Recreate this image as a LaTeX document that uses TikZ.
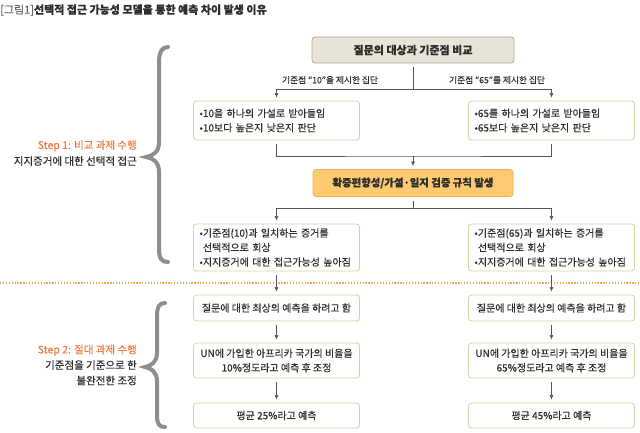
\documentclass[tikz,border=0pt]{standalone}
\usepackage{fontspec}
\setmainfont{Noto Sans CJK KR}[FakeBold=0.35]
\usetikzlibrary{arrows.meta}
\definecolor{txt}{HTML}{2E2E2E}
\definecolor{titlegray}{HTML}{666666}
\definecolor{topfill}{HTML}{E8E5D8}
\definecolor{topdraw}{HTML}{A9A79B}
\definecolor{boxgreen}{HTML}{C6DAA6}
\definecolor{orfill}{HTML}{FDCA70}
\definecolor{ordraw}{HTML}{E9B45A}
\definecolor{steporange}{HTML}{EE7A3F}
\definecolor{dotorange}{HTML}{F2A850}
\definecolor{bracec}{HTML}{8E8E8E}
\definecolor{linec}{HTML}{555555}
\begin{document}
\begin{tikzpicture}[x=1pt,y=-1pt,
  gbox/.style={draw=boxgreen, line width=0.8pt, rounded corners=3pt, fill=white,
    minimum width=166pt, inner xsep=6pt, inner ysep=2pt,
    font=\fontsize{10}{14.5}\selectfont, text=txt},
  lbox/.style={gbox, text width=154pt, align=left},
  cbox/.style={gbox, align=center},
  conn/.style={draw=linec, line width=0.6pt},
  link/.style={conn, shorten <=4pt, shorten >=4pt},
  arr/.style={conn, -{Latex[length=4.5pt,width=4pt]}, shorten <=4pt, shorten >=3pt},
  arr0/.style={conn, -{Latex[length=4.5pt,width=4pt]}, shorten >=3pt},
  lbl/.style={font=\fontsize{8.7}{10}\selectfont, text=txt, inner sep=1pt},
  steplbl/.style={anchor=east, align=right, font=\fontsize{10.5}{16}\selectfont, text=txt, inner sep=0pt},
  brace/.style={draw=bracec, line width=4pt, line cap=round}
]
\useasboundingbox (0,0) rectangle (640,433);

% title
\node[anchor=west, inner sep=0pt, text=txt, font=\fontsize{11}{12}\selectfont\bfseries] (title) at (0,10)
  {{\mdseries\color{titlegray}[그림1]}선택적 접근 가능성 모델을 통한 예측 차이 발생 이유};

% top box
\node[draw=topdraw, fill=topfill, line width=0.8pt, rounded corners=3pt,
  minimum width=202pt, minimum height=26pt, text=txt,
  font=\fontsize{11}{12}\selectfont\bfseries] (top) at (413,50) {질문의 대상과 기준점 비교};

% split 1
\coordinate (s1) at (413,89);
\node[lbl] (la) at (330,80) {기준점 “10”을 제시한 집단};
\node[lbl] (lb) at (497,80) {기준점 “65”를 제시한 집단};

% row 1
\node[lbox, minimum height=39pt] (r1l) at (276.5,120.5) {•10을 하나의 가설로 받아들임\\•10보다 높은지 낮은지 판단};
\node[lbox, minimum height=39pt] (r1r) at (551.5,120.5) {•65를 하나의 가설로 받아들임\\•65보다 높은지 낮은지 판단};

\coordinate (m1) at (413,156);

% orange box
\node[draw=ordraw, fill=orfill, line width=0.8pt, rounded corners=3pt,
  minimum width=200pt, minimum height=27pt, text=txt,
  font=\fontsize{10.4}{12}\selectfont\bfseries] (mid) at (413,183) {확증편향성/가설·일지 검증 규칙 발생};

\coordinate (s2) at (413,208);

% row 2
\node[lbox, minimum height=47pt] (r2l) at (276.5,247.5) {•기준점(10)과 일치하는 증거를\\\phantom{•}선택적으로 회상\\•지지증거에 대한 접근가능성 높아짐};
\node[lbox, minimum height=47pt] (r2r) at (551.5,247.5) {•기준점(65)과 일치하는 증거를\\\phantom{•}선택적으로 회상\\•지지증거에 대한 접근가능성 높아짐};

% dotted separator
\draw[draw=dotorange, line width=1.3pt, dash pattern=on 1.3pt off 1.6pt] (0,283) -- (640,283);

% row 3 left
\node[cbox, minimum height=26pt] (r3la) at (276.5,308) {질문에 대한 최상의 예측을 하려고 함};
\node[cbox, minimum height=35pt] (r3lb) at (276.5,360.5) {UN에 가입한 아프리카 국가의 비율을\\10\%정도라고 예측 후 조정};
\node[cbox, minimum height=25pt] (r3lc) at (276.5,415.5) {평균 25\%라고 예측};
% row 3 right
\node[cbox, minimum height=26pt] (r3ra) at (551.5,308) {질문에 대한 최상의 예측을 하려고 함};
\node[cbox, minimum height=35pt] (r3rb) at (551.5,360.5) {UN에 가입한 아프리카 국가의 비율을\\65\%정도라고 예측 후 조정};
\node[cbox, minimum height=25pt] (r3rc) at (551.5,415.5) {평균 45\%라고 예측};

% connectors
\draw[conn, shorten <=4pt] (top.south) -- (s1);
\draw[arr0] (s1) -| (r1l.north);
\draw[arr0] (s1) -| (r1r.north);
\draw[link] (r1l.south) |- (m1) -| (r1r.south);
\draw[arr0] (m1) -- (mid.north);
\draw[conn, shorten <=4pt] (mid.south) -- (s2);
\draw[arr0] (s2) -| (r2l.north);
\draw[arr0] (s2) -| (r2r.north);
\draw[arr] (r2l) -- (r3la);
\draw[arr] (r3la) -- (r3lb);
\draw[arr] (r3lb) -- (r3lc);
\draw[arr] (r2r) -- (r3ra);
\draw[arr] (r3ra) -- (r3rb);
\draw[arr] (r3rb) -- (r3rc);

% step labels
\node[steplbl] (st1) at (137,153) {{\color{steporange}Step 1: 비교 과제 수행}\\지지증거에 대한 선택적 접근};
\node[steplbl, font=\fontsize{10.5}{15.5}\selectfont] (st2) at (137,365) {{\color{steporange}Step 2: 절대 과제 수행}\\기준점을 기준으로 한\\불완전한 조정};

% braces
\draw[brace] (168,47) .. controls (162,47) and (159,52) .. (159,62) -- (159,142)
  .. controls (159,152) and (153,156) .. (146,157)
  .. controls (153,158) and (159,162) .. (159,172) -- (159,249)
  .. controls (159,259) and (162,262) .. (168,262);
\draw[brace] (165,303) .. controls (159,303) and (157,307) .. (157,316) -- (157,353)
  .. controls (157,362) and (151,366) .. (145,367)
  .. controls (151,368) and (157,372) .. (157,381) -- (157,415)
  .. controls (157,424) and (159,427) .. (165,427);
\end{tikzpicture}
\end{document}
